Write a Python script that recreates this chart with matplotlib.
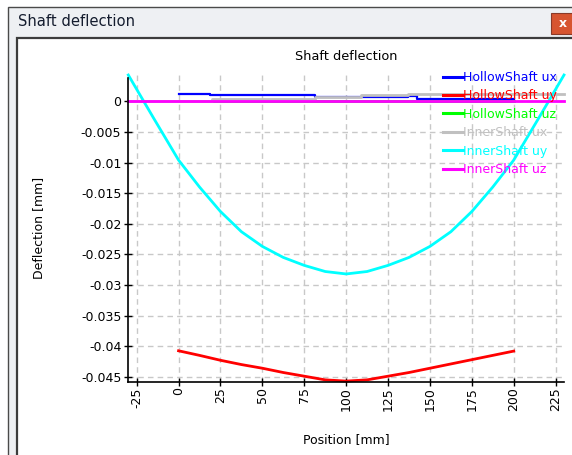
import matplotlib
matplotlib.use("Agg")
import matplotlib.pyplot as plt
from matplotlib.patches import Rectangle

# ---------------- data ----------------
hollow_ux_pos = [0, 19, 81.6, 109, 137, 142, 200]
hollow_ux_val = [0.00119, 0.00098, 0.00075, 0.00065, 0.00087, 0.00042, 0.00042]

hollow_uy_pos = [0, 12.5, 25, 37.5, 50, 62.5, 75, 87.5, 100, 112.5, 125, 137.5, 150, 162.5, 175, 187.5, 200]
hollow_uy_val = [-0.04075, -0.0415, -0.0423, -0.0430, -0.0436, -0.0443, -0.0449, -0.0455, -0.0457,
                 -0.0455, -0.0449, -0.0443, -0.0436, -0.0429, -0.0422, -0.0415, -0.0408]

hollow_uz_pos = [0, 200]
hollow_uz_val = [0.0, 0.0]

inner_ux_pos = [-30, 20, 81.6, 109, 137, 230]
inner_ux_val = [0.0, 0.0004, 0.00075, 0.00108, 0.00125, 0.00125]

inner_uy_pos = [-30, -15, 0, 12.5, 25, 37.5, 50, 62.5, 75, 87.5, 100, 112.5, 125, 137.5, 150,
                162.5, 175, 187.5, 200, 215, 230]
inner_uy_val = [0.0043, -0.0027, -0.0096, -0.0140, -0.0180, -0.0213, -0.0237, -0.0255, -0.0268,
                -0.0278, -0.0282, -0.0278, -0.0268, -0.0255, -0.0237, -0.0213, -0.0180, -0.0140,
                -0.0096, -0.0027, 0.0043]

inner_uz_pos = [-30, 230]
inner_uz_val = [0.0, 0.0]

series_labels = ["HollowShaft ux", "HollowShaft uy", "HollowShaft uz",
                 "InnerShaft ux", "InnerShaft uy", "InnerShaft uz"]
series_colors = ["#0000FF", "#FF0000", "#00FF00", "#C0C0C0", "#00FFFF", "#FF00FF"]

x_ticks = [-25, 0, 25, 50, 75, 100, 125, 150, 175, 200, 225]
y_ticks = [0, -0.005, -0.01, -0.015, -0.02, -0.025, -0.03, -0.035, -0.04, -0.045]
y_tick_labels = ["0", "-0.005", "-0.01", "-0.015", "-0.02", "-0.025", "-0.03", "-0.035", "-0.04", "-0.045"]

window_title = "Shaft deflection"
chart_title = "Shaft deflection"
x_label = "Position [mm]"
y_label = "Deflection [mm]"

# ---------------- figure / window chrome ----------------
W, H = 572, 455
fig = plt.figure(figsize=(W / 100, H / 100), dpi=100, facecolor="white")


def fx(x):
    return x / W


def fy(y):
    return 1 - y / H


def rect(x0, y0, x1, y1, **kw):
    r = Rectangle((fx(x0), fy(y1)), fx(x1) - fx(x0), fy(y0) - fy(y1),
                  transform=fig.transFigure, zorder=-10, **kw)
    fig.add_artist(r)
    return r


rect(8, 7, 580, 470, facecolor="#EEF0F3", edgecolor="#4A4A4A", linewidth=1.0)
rect(16.5, 37.5, 580, 470, facecolor="white", edgecolor="#3C3C3C", linewidth=1.6)
rect(551, 13, 575, 34, facecolor="#D75530", edgecolor="#8A3A28", linewidth=0.8)
fig.text(fx(563), fy(23.5), "x", color="white", fontsize=9, fontweight="bold",
         ha="center", va="center")
fig.text(fx(18), fy(22), window_title, fontsize=10.6, color="#141C2E",
         ha="left", va="center", family="DejaVu Sans")

# ---------------- axes ----------------
ax_left, ax_right, ax_top, ax_bottom = 128.3, 564, 75, 381.7
ax = fig.add_axes([fx(ax_left), fy(ax_bottom), fx(ax_right) - fx(ax_left), fy(ax_top) - fy(ax_bottom)])
ax.set_zorder(5)
ax.set_facecolor("none")

ax.plot(hollow_ux_pos, hollow_ux_val, color=series_colors[0], lw=1.6, drawstyle="steps-post",
        label=series_labels[0], clip_on=False)
ax.plot(hollow_uy_pos, hollow_uy_val, color=series_colors[1], lw=2.0, label=series_labels[1], clip_on=False)
ax.plot(hollow_uz_pos, hollow_uz_val, color=series_colors[2], lw=2.0, label=series_labels[2], clip_on=False)
ax.plot(inner_ux_pos, inner_ux_val, color=series_colors[3], lw=2.0, drawstyle="steps-post",
        label=series_labels[3], clip_on=False)
ax.plot(inner_uy_pos, inner_uy_val, color=series_colors[4], lw=2.0, label=series_labels[4], clip_on=False)
ax.plot(inner_uz_pos, inner_uz_val, color=series_colors[5], lw=2.0, label=series_labels[5], clip_on=False)

ax.set_xlim(-30, 230)
ax.set_ylim(-0.0458, 0.0043)

ax.set_xticks(x_ticks)
ax.set_xticklabels([str(t) for t in x_ticks], rotation=90, fontsize=9)
ax.set_yticks(y_ticks)
ax.set_yticklabels(y_tick_labels, fontsize=9)
ax.tick_params(axis="both", direction="inout", length=6, width=1.0, color="black")
ax.tick_params(axis="x", pad=1)
ax.tick_params(axis="y", pad=2)

ax.grid(True, color="#C8C8C8", linestyle=(0, (4, 3)), linewidth=1.0)
ax.set_axisbelow(True)

for s in ["top", "right"]:
    ax.spines[s].set_visible(False)
for s in ["left", "bottom"]:
    ax.spines[s].set_linewidth(1.2)
    ax.spines[s].set_color("black")
ax.spines["left"].set_bounds(-0.0458, 0.0038)

ax.set_title(chart_title, fontsize=9.3, pad=0, y=1 + (75 - 53 - 7) / (ax_bottom - ax_top))

ax.set_xlabel(x_label, fontsize=9)
ax.xaxis.set_label_coords(0.5, -(440 - ax_bottom) / (ax_bottom - ax_top))
ax.xaxis.label.set_va("center")
ax.set_ylabel(y_label, fontsize=9)
ax.yaxis.set_label_coords((39 - ax_left) / (ax_right - ax_left), 0.5)
ax.yaxis.label.set_va("center")

leg = ax.legend(loc="upper left", bbox_to_anchor=(fx(443), fy(71)), bbox_transform=fig.transFigure,
                frameon=False, fontsize=9, handlelength=1.6, handletextpad=0.0,
                borderpad=0, borderaxespad=0, labelspacing=0.43, labelcolor="linecolor")
leg.set_zorder(5)
for line in leg.get_lines():
    line.set_linewidth(2.2)

fig.savefig("out.png", dpi=100, facecolor=fig.get_facecolor())
